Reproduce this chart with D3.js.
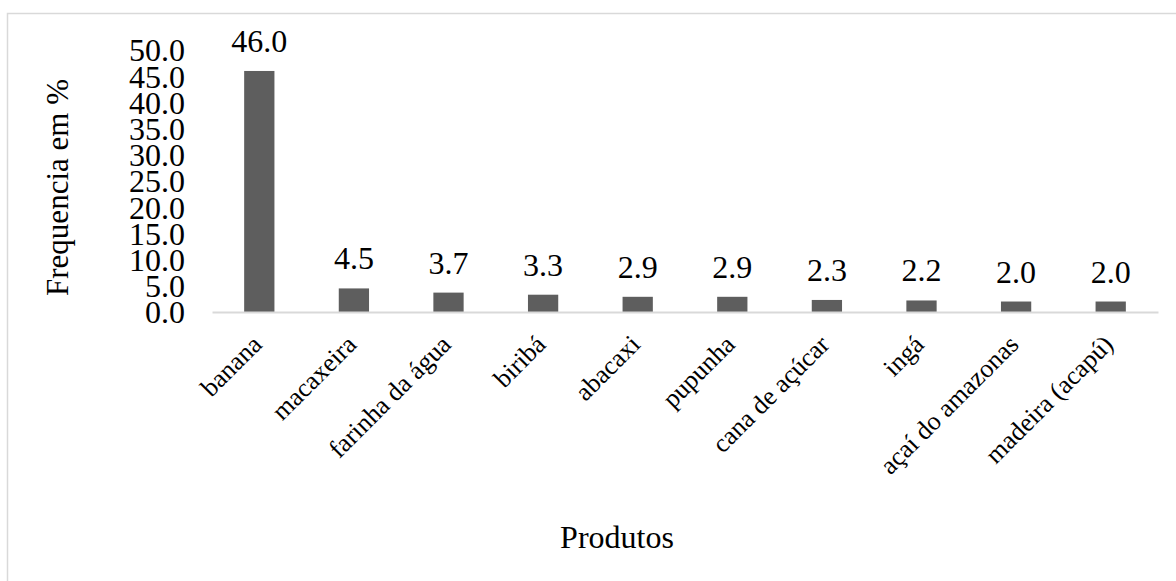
<!DOCTYPE html>
<html>
<head>
<meta charset="utf-8">
<script src="https://cdn.jsdelivr.net/npm/d3@7"></script>
<style>
  html, body { margin: 0; padding: 0; background: #fff; }
  svg { display: block; }
  text { font-family: "Liberation Serif", "Times New Roman", serif; fill: #000; }
</style>
</head>
<body>
<svg id="chart" width="1176" height="581"></svg>
<script>
const categories = ["banana", "macaxeira", "farinha da água", "biribá", "abacaxi", "pupunha", "cana de açúcar", "ingá", "açaí do amazonas", "madeira (acapú)"];
const values = [46.0, 4.5, 3.7, 3.3, 2.9, 2.9, 2.3, 2.2, 2.0, 2.0];
const yTicks = [0, 5, 10, 15, 20, 25, 30, 35, 40, 45, 50];
const yTitle = "Frequencia em %";
const xTitle = "Produtos";

const svg = d3.select("#chart");

// outer chart border
svg.append("rect")
  .attr("x", 7.5).attr("y", 13.5)
  .attr("width", 1200).attr("height", 600)
  .attr("fill", "none").attr("stroke", "#d9d9d9").attr("stroke-width", 1.5);

const x0 = 212, x1 = 1158, yBase = 312, yTop = 50;
const x = d3.scaleBand().domain(categories).range([x0, x1]).paddingInner(0.68).paddingOuter(0.34);
const y = d3.scaleLinear().domain([0, 50]).range([yBase, yTop]);

// y tick labels (no axis line)
const yAxis = d3.axisLeft(y).tickValues(yTicks).tickFormat(d3.format(".1f")).tickSize(0).tickPadding(0);
const gy = svg.append("g").attr("transform", "translate(185,0)").call(yAxis);
gy.select(".domain").remove();
gy.selectAll("text").attr("font-size", 32).attr("font-family", "Liberation Serif").attr("fill", "#000").attr("dy", "0.34em");

// bars
svg.append("g").selectAll("rect").data(values).join("rect")
  .attr("x", (d, i) => x(categories[i]))
  .attr("y", d => y(d))
  .attr("width", x.bandwidth())
  .attr("height", d => yBase - y(d))
  .attr("fill", "#5e5e5e");

// x axis line
const xAxis = d3.axisBottom(x).tickSize(0).tickPadding(0);
const gx = svg.append("g").attr("transform", `translate(0,${yBase})`).call(xAxis);
gx.select(".domain").attr("stroke", "#d9d9d9").attr("stroke-width", 2);
gx.selectAll(".tick text")
  .attr("font-size", 26).attr("font-family", "Liberation Serif").attr("fill", "#000")
  .attr("text-anchor", "end")
  .attr("y", 0).attr("dy", 0)
  .attr("transform", "translate(4,34) rotate(-45)");

// value labels
svg.append("g").selectAll("text").data(values).join("text")
  .attr("x", (d, i) => x(categories[i]) + x.bandwidth() / 2)
  .attr("y", d => y(d) - 19)
  .attr("text-anchor", "middle")
  .attr("font-size", 32)
  .text(d => d3.format(".1f")(d));

// titles
svg.append("text")
  .attr("transform", "translate(68,187.5) rotate(-90)")
  .attr("text-anchor", "middle")
  .attr("font-size", 31)
  .text(yTitle);

svg.append("text")
  .attr("x", 617).attr("y", 548)
  .attr("text-anchor", "middle")
  .attr("font-size", 32)
  .text(xTitle);
</script>
</body>
</html>
